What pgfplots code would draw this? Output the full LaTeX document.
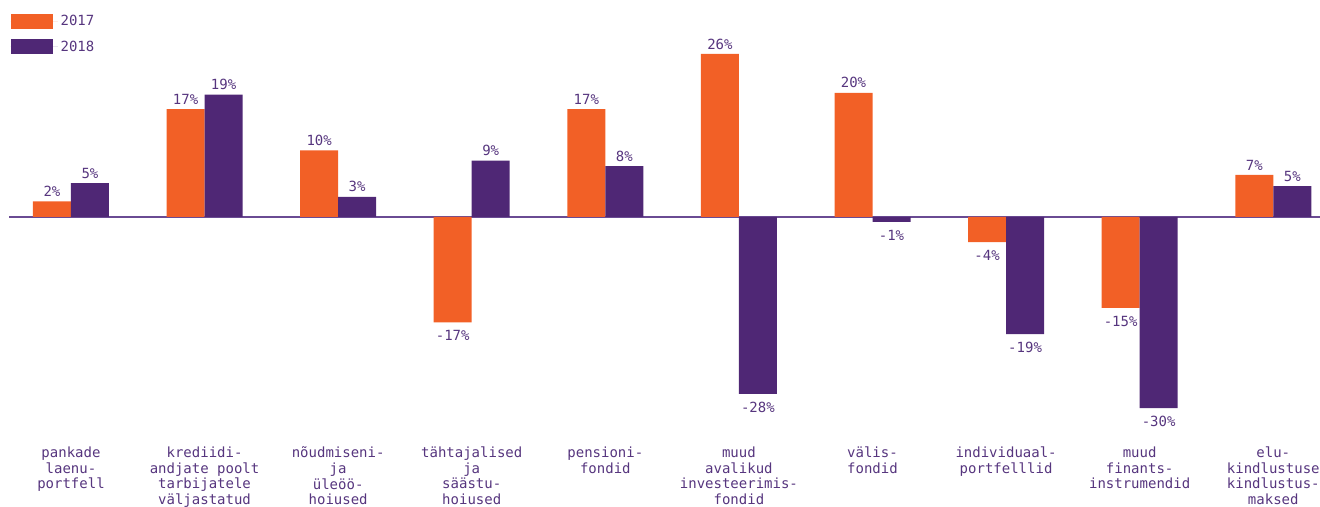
\documentclass[border=0pt]{standalone}
\usepackage{pgfplots}
\pgfplotsset{compat=1.18}
\usepackage{fontspec}
\setmainfont{DejaVu Sans Mono}
\definecolor{oranz}{HTML}{F26026}
\definecolor{lilla}{HTML}{4F2775}
\definecolor{tekst}{HTML}{56357E}
\definecolor{joon}{HTML}{6A4B93}

\begin{document}
\begin{tikzpicture}
\begin{axis}[
    name=ax,
    scale only axis,
    width=983.25pt, height=313.2pt,
    xmin=-0.464, xmax=9.35,
    ymin=-32, ymax=34.6,
    clip=false,
    ybar=0pt,
    bar width=28.5pt,
    axis line style={draw=none},
    major tick length=0pt,
    ytick=\empty,
    extra y ticks={0},
    extra y tick labels={},
    extra y tick style={ymajorgrids=true, major grid style={color=joon, line width=1.1pt}},
    xtick={0,...,9},
    xticklabels={
        {pankade\\laenu-\\portfell},
        {krediidi-\\andjate poolt\\tarbijatele\\väljastatud},
        {nõudmiseni-\\ja\\üleöö-\\hoiused},
        {tähtajalised\\ja\\säästu-\\hoiused},
        {pensioni-\\fondid},
        {muud\\avalikud\\investeerimis-\\fondid},
        {välis-\\fondid},
        {individuaal-\\portfelllid},
        {muud\\finants-\\instrumendid},
        {elu-\\kindlustuse\\kindlustus-\\maksed}},
    xticklabel style={align=center, font=\fontsize{10.5}{11.7}\selectfont, text=tekst, yshift=-18.5pt},
    point meta=explicit symbolic,
    visualization depends on=rawy\as\rawy,
    nodes near coords,
    every node near coord/.append style={font=\fontsize{10.5}{12}\selectfont, text=tekst,
        anchor=\ifdim\rawy pt<0pt north\else south\fi,
        yshift=\ifdim\rawy pt<0pt -2.5pt\else 0pt\fi},
    legend style={draw=none, fill=none, at={(0,1)}, anchor=north west,
        xshift=-2pt, yshift=-7pt,
        font=\fontsize{10.5}{12}\selectfont, text=tekst,
        row sep=6pt, cells={anchor=west}},
    legend image code/.code={\fill[#1] (0pt,-5.6pt) rectangle (31.5pt,5.6pt); \path (0pt,0pt) -- (35.5pt,0pt);},
]
\addplot[fill=oranz, draw=none] coordinates {
    (0,2.5) [2\%] (1,17.2) [17\%] (2,10.6) [10\%] (3,-16.8) [-17\%] (4,17.2) [17\%]
    (5,26) [26\%] (6,19.8) [20\%] (7,-4) [-4\%] (8,-14.5) [-15\%] (9,6.7) [7\%]
};
\addplot[fill=lilla, draw=none] coordinates {
    (0,5.4) [5\%] (1,19.5) [19\%] (2,3.2) [3\%] (3,9) [9\%] (4,8.1) [8\%]
    (5,-28.2) [-28\%] (6,-0.8) [-1\%] (7,-18.7) [-19\%] (8,-30.5) [-30\%] (9,4.9) [5\%]
};
\legend{2017,2018}
\end{axis}
\pgfresetboundingbox
\path[use as bounding box] ([shift={(-6.75pt,-66.75pt)}]ax.south west) rectangle (ax.north east);
\end{tikzpicture}
\end{document}
